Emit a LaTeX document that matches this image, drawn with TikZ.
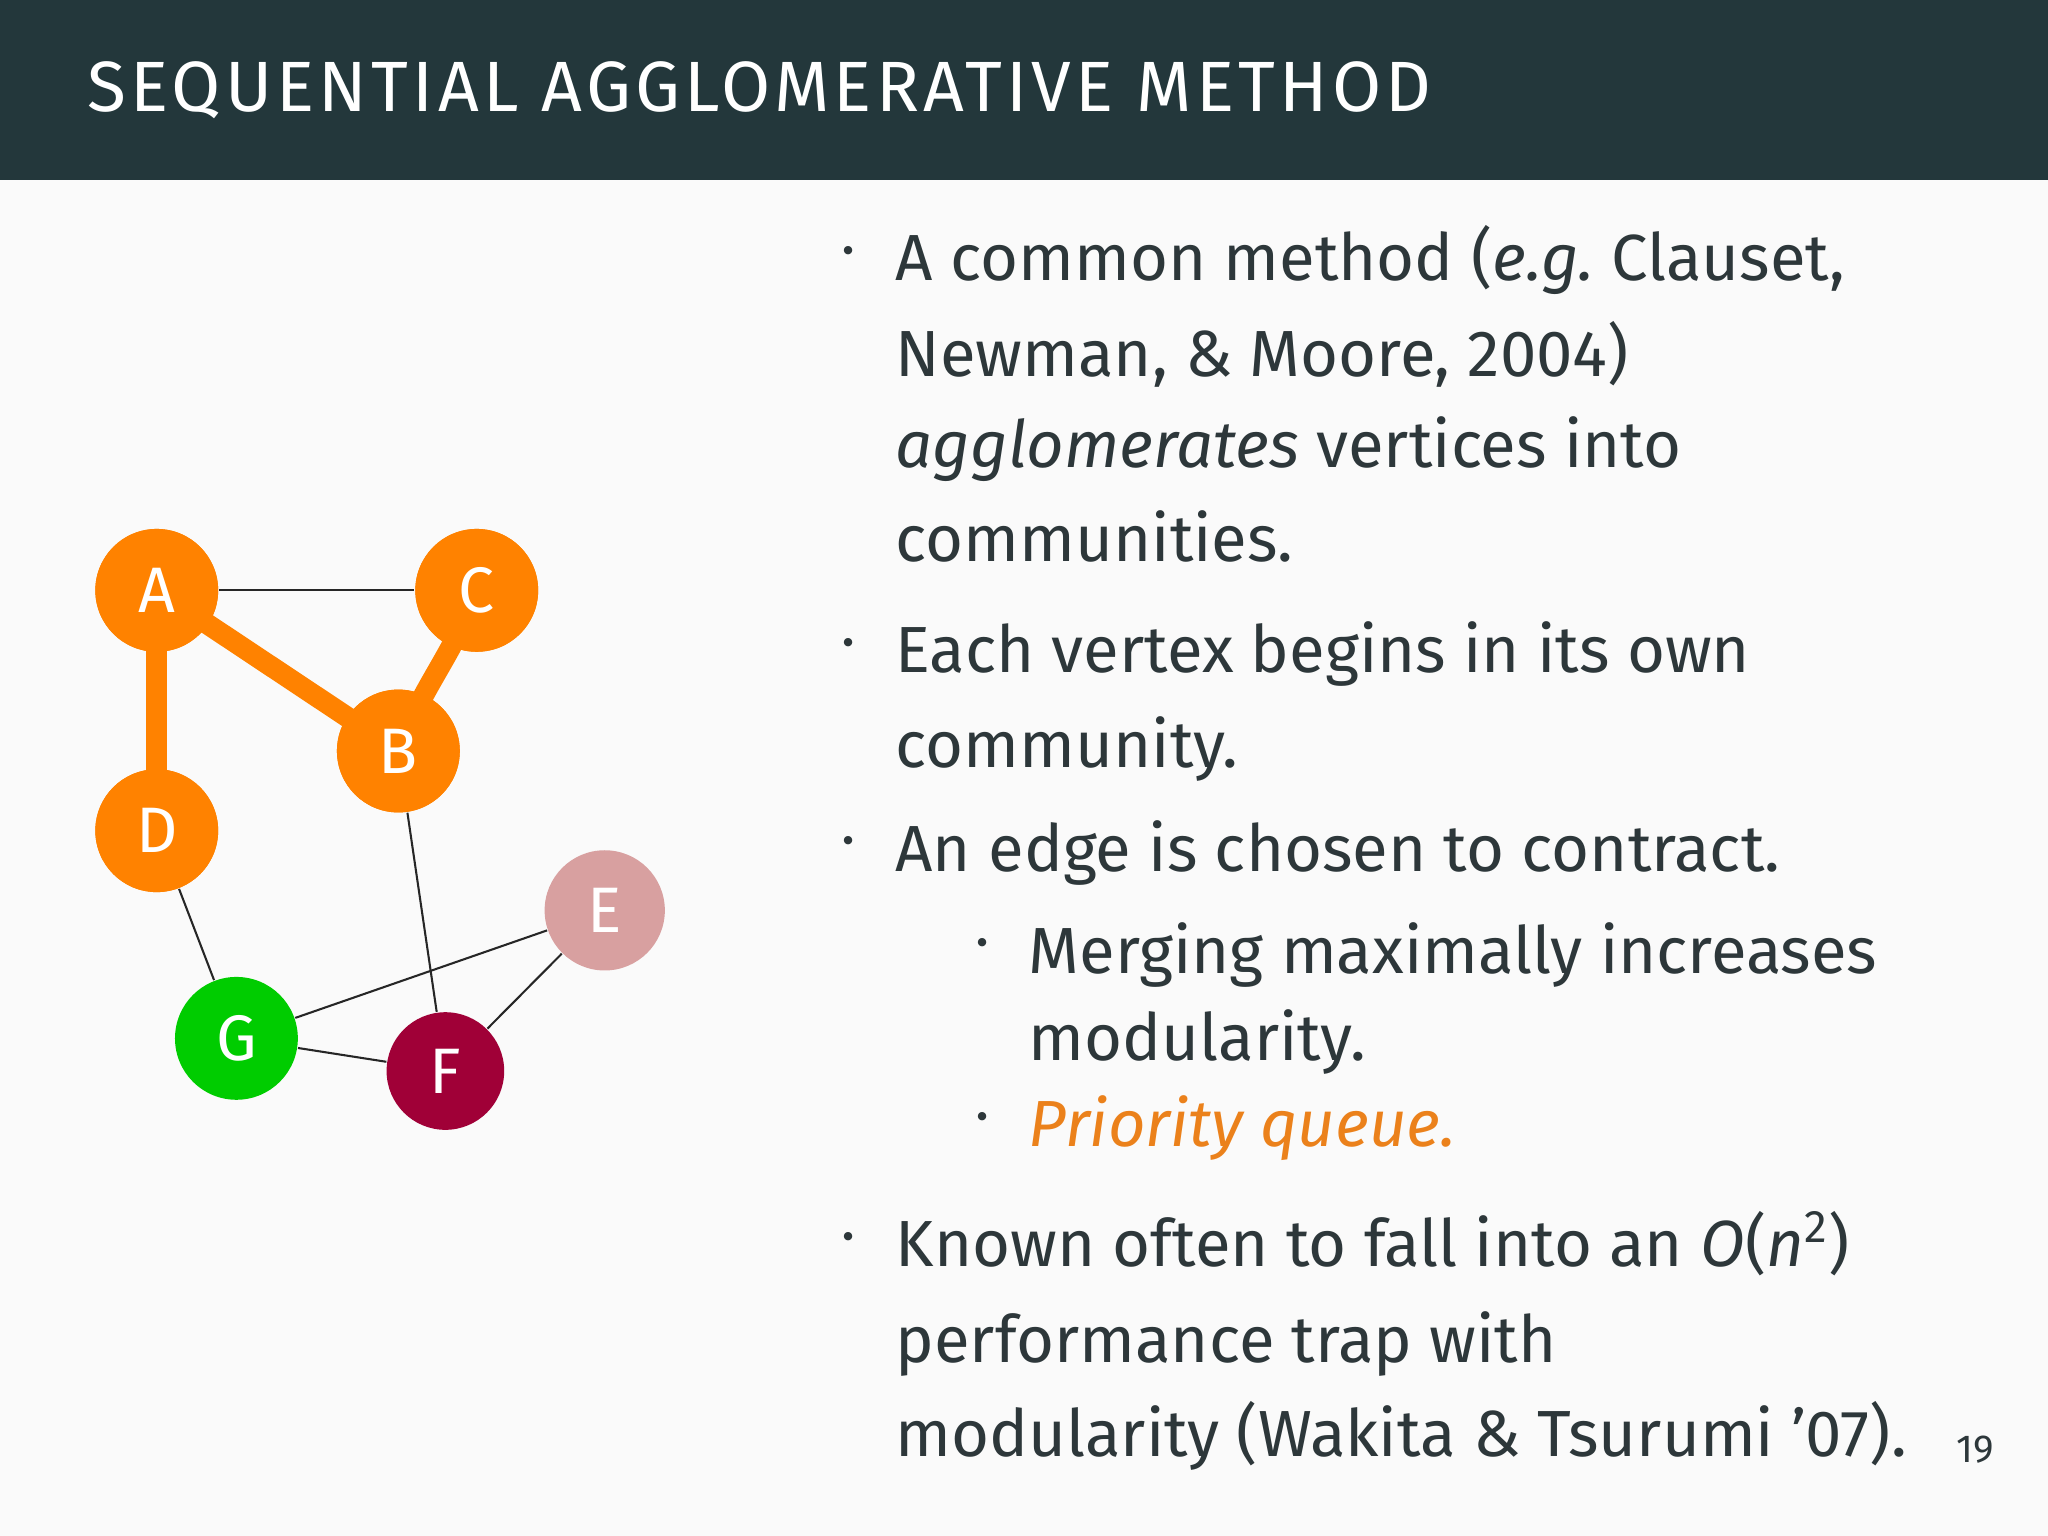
\documentclass[tikz,border=0pt]{standalone}
\usepackage{fontspec}
\setmainfont{Fira Sans}
\definecolor{hdr}{RGB}{35,55,59}
\definecolor{txt}{RGB}{45,55,58}
\definecolor{org}{RGB}{255,130,0}
\definecolor{pq}{RGB}{235,129,27}
\definecolor{ecol}{RGB}{216,160,160}
\definecolor{gcol}{RGB}{0,204,0}
\definecolor{fcol}{RGB}{160,0,55}
\begin{document}
\begin{tikzpicture}[x=0.01cm,y=-0.01cm,
  vert/.style={circle,minimum size=0.94cm,inner sep=0pt,text=white,font=\fontsize{14pt}{14pt}\selectfont},
  thin edge/.style={draw=black!85,line width=0.45pt},
  merged/.style={draw=org,line width=4.5pt},
  line/.style={anchor=base west,text=txt,inner sep=0pt,font=\fontsize{14.2pt}{14pt}\selectfont},
  bul/.style={anchor=base,text=txt,inner sep=0pt,font=\fontsize{18pt}{14pt}\selectfont}]
\fill[white!98!black] (0,0) rectangle (1568,1176);
\fill[hdr] (0,0) rectangle (1568,138);
\node[anchor=base west,inner sep=0pt,text=white,font=\fontsize{15.5pt}{16pt}\selectfont\addfontfeature{LetterSpace=6}] (title) at (66,85) {SEQUENTIAL AGGLOMERATIVE METHOD};
% graph
\node[vert,fill=org] (A) at (120,452) {A};
\node[vert,fill=org] (C) at (365,452) {C};
\node[vert,fill=org] (B) at (305,575) {B};
\node[vert,fill=org] (D) at (120,636) {D};
\node[vert,fill=ecol,minimum size=0.92cm] (E) at (463,697) {E};
\node[vert,fill=gcol] (G) at (181,795) {G};
\node[vert,fill=fcol,minimum size=0.9cm] (F) at (341,820) {F};
\draw[merged] (A.center) -- (B.center);
\draw[merged] (C.center) to[out=-110,in=70] (B.center);
\draw[merged] (A.center) -- (D.center);
\draw[thin edge] (A) -- (C);
\draw[thin edge] (B) -- (F);
\draw[thin edge] (D) -- (G);
\draw[thin edge] (G) -- (E);
\draw[thin edge] (G) -- (F);
\draw[thin edge] (F) -- (E);
\node[vert,fill=org] at (A) {A};
\node[vert,fill=org] at (C) {C};
\node[vert,fill=org] at (B) {B};
\node[vert,fill=org] at (D) {D};
% text
\node[bul] (b1) at (650,207) {$\cdot$};
\node[line] (l1) at (685,215) {A common method (\textit{e.g.}\ Clauset,};
\node[line] (l2) at (685,288) {Newman, \& Moore, 2004)};
\node[line] (l3) at (685,358) {\textit{agglomerates} vertices into};
\node[line] (l4) at (685,430) {communities.};
\node[bul] (b2) at (650,507) {$\cdot$};
\node[line] (l5) at (685,515) {Each vertex begins in its own};
\node[line] (l6) at (685,588) {community.};
\node[bul] (b3) at (650,659) {$\cdot$};
\node[line] (l7) at (685,667) {An edge is chosen to contract.};
\node[bul] (b4) at (752,737) {$\cdot$};
\node[line] (l8) at (787,745) {Merging maximally increases};
\node[line] (l9) at (787,812) {modularity.};
\node[bul] (b5) at (752,870) {$\cdot$};
\node[line,text=pq] (l10) at (787,878) {\textit{Priority queue.}};
\node[bul] (b6) at (650,962) {$\cdot$};
\node[line] (l11) at (685,970) {Known often to fall into an \textit{O}(\textit{n}\textsuperscript{2})};
\node[line] (l12) at (685,1043) {performance trap with};
\node[line] (l13) at (685,1115) {modularity (Wakita \& Tsurumi ’07).};
\node[anchor=base west,inner sep=0pt,text=txt,font=\fontsize{8.5pt}{9pt}\selectfont] (pn) at (1497,1120) {19};
\end{tikzpicture}
\end{document}
